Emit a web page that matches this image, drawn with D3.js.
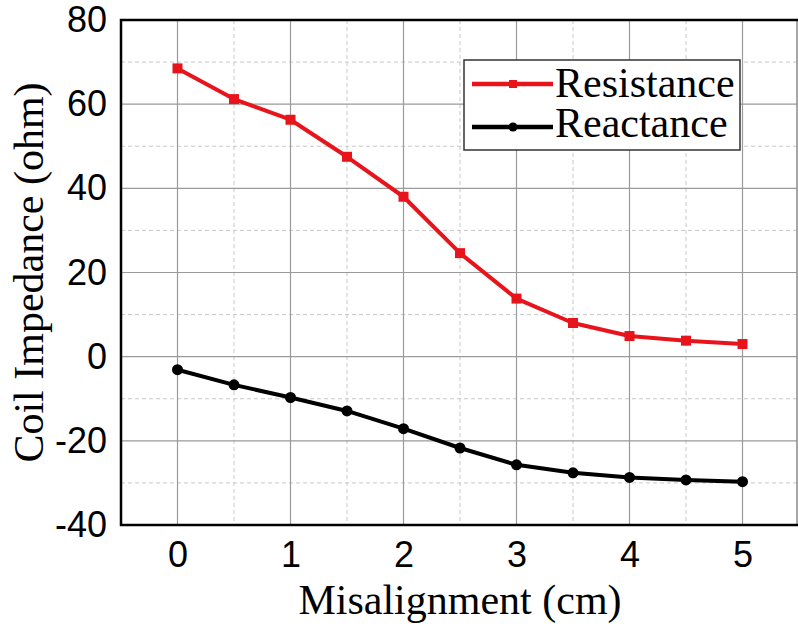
<!DOCTYPE html>
<html>
<head>
<meta charset="utf-8">
<script src="https://cdn.jsdelivr.net/npm/d3@7"></script>
<style>
  html, body { margin: 0; padding: 0; background: #fff; }
  svg { display: block; }
</style>
</head>
<body>
<svg id="chart" width="798" height="633"></svg>
<script>
// Coil impedance versus lateral misalignment
const misalignment = [0, 0.5, 1, 1.5, 2, 2.5, 3, 3.5, 4, 4.5, 5];
const resistance = [68.5, 61.2, 56.3, 47.5, 38.0, 24.6, 13.8, 8.0, 4.9, 3.8, 3.0];
const reactance = [-3.1, -6.7, -9.7, -12.9, -17.1, -21.7, -25.7, -27.6, -28.7, -29.3, -29.7];
const xTicks = [0, 1, 2, 3, 4, 5];
const yTicks = [-40, -20, 0, 20, 40, 60, 80];
const seriesNames = ["Resistance", "Reactance"];

const svg = d3.select("#chart");
const plotL = 121, plotR = 797, plotT = 20, plotB = 525;

const x = d3.scaleLinear().domain([-0.5, 5.5]).range([plotL, 799]);
const y = d3.scaleLinear().domain([-40, 80]).range([plotB, plotT]);

const serif = "Liberation Serif, Times New Roman, serif";
const sans = "Liberation Sans, Arial, sans-serif";
const fmt = d => String(d); // plain hyphen for negatives

// minor grid (dashed)
const gMinor = svg.append("g");
gMinor.selectAll("line").data(d3.range(0.5, 5, 1)).join("line")
  .attr("x1", d => x(d)).attr("x2", d => x(d)).attr("y1", plotT).attr("y2", plotB)
  .attr("stroke", "#c8c8c8").attr("stroke-width", 1).attr("stroke-dasharray", "4,3");
svg.append("g").selectAll("line").data(d3.range(-30, 80, 20)).join("line")
  .attr("x1", plotL).attr("x2", plotR).attr("y1", d => y(d)).attr("y2", d => y(d))
  .attr("stroke", "#c8c8c8").attr("stroke-width", 1).attr("stroke-dasharray", "4,3");

// major grid (solid)
svg.append("g").selectAll("line").data(xTicks).join("line")
  .attr("x1", d => x(d)).attr("x2", d => x(d)).attr("y1", plotT).attr("y2", plotB)
  .attr("stroke", "#9a9a9a").attr("stroke-width", 1.2);
svg.append("g").selectAll("line").data(yTicks.slice(1, -1)).join("line")
  .attr("x1", plotL).attr("x2", plotR).attr("y1", d => y(d)).attr("y2", d => y(d))
  .attr("stroke", "#9a9a9a").attr("stroke-width", 1.2);

// frame: right edge is a plain grey rule, other sides black
svg.append("line").attr("x1", plotR).attr("x2", plotR).attr("y1", plotT).attr("y2", plotB)
  .attr("stroke", "#8a8a8a").attr("stroke-width", 1.5);
svg.append("path")
  .attr("d", `M798,${plotT}H${plotL}V${plotB}H798`)
  .attr("fill", "none").attr("stroke", "#000").attr("stroke-width", 2.5);

// axes (labels only, no tick marks)
const gx = svg.append("g").attr("transform", `translate(0,${plotB})`)
  .call(d3.axisBottom(x).tickValues(xTicks).tickSize(0).tickPadding(16).tickFormat(fmt));
gx.select(".domain").remove();
gx.selectAll("text").attr("font-family", sans).attr("font-size", 36).attr("fill", "#000");

const gy = svg.append("g").attr("transform", `translate(${plotL},0)`)
  .call(d3.axisLeft(y).tickValues(yTicks).tickSize(0).tickPadding(14).tickFormat(fmt));
gy.select(".domain").remove();
gy.selectAll("text").attr("font-family", sans).attr("font-size", 36).attr("fill", "#000");

// axis titles
svg.append("text").attr("x", 460).attr("y", 614).attr("text-anchor", "middle")
  .attr("font-family", serif).attr("font-size", 42).attr("fill", "#000")
  .text("Misalignment (cm)");
svg.append("text").attr("transform", `translate(43,${(plotT + plotB) / 2}) rotate(-90)`)
  .attr("text-anchor", "middle")
  .attr("font-family", serif).attr("font-size", 42).attr("fill", "#000")
  .text("Coil Impedance (ohm)");

// series
const line = d3.line().x((d, i) => x(misalignment[i])).y(d => y(d));
const red = "#e8141c";

svg.append("path").datum(resistance).attr("d", line)
  .attr("fill", "none").attr("stroke", red).attr("stroke-width", 4).attr("stroke-linejoin", "round");
svg.append("g").selectAll("rect").data(resistance).join("rect")
  .attr("x", (d, i) => x(misalignment[i]) - 5).attr("y", d => y(d) - 5)
  .attr("width", 10).attr("height", 10).attr("fill", red);

svg.append("path").datum(reactance).attr("d", line)
  .attr("fill", "none").attr("stroke", "#000").attr("stroke-width", 4).attr("stroke-linejoin", "round");
svg.append("g").selectAll("circle").data(reactance).join("circle")
  .attr("cx", (d, i) => x(misalignment[i])).attr("cy", d => y(d)).attr("r", 5.5).attr("fill", "#000");

// legend
const lg = svg.append("g");
lg.append("rect").attr("x", 464).attr("y", 60).attr("width", 276).attr("height", 90)
  .attr("fill", "#fff").attr("stroke", "#333").attr("stroke-width", 1.5);
const legendItems = [
  { name: seriesNames[0], color: red, shape: "square", cy: 84, base: 97 },
  { name: seriesNames[1], color: "#000", shape: "circle", cy: 127, base: 137 }
];
legendItems.forEach(it => {
  lg.append("line").attr("x1", 472).attr("x2", 553).attr("y1", it.cy).attr("y2", it.cy)
    .attr("stroke", it.color).attr("stroke-width", 4.5);
  if (it.shape === "square") {
    lg.append("rect").attr("x", 513 - 4).attr("y", it.cy - 4).attr("width", 8).attr("height", 8)
      .attr("fill", it.color);
  } else {
    lg.append("circle").attr("cx", 513).attr("cy", it.cy).attr("r", 4.5).attr("fill", it.color);
  }
  lg.append("text").attr("x", 555).attr("y", it.base)
    .attr("font-family", serif).attr("font-size", 42).attr("fill", "#000")
    .text(it.name);
});
</script>
</body>
</html>
